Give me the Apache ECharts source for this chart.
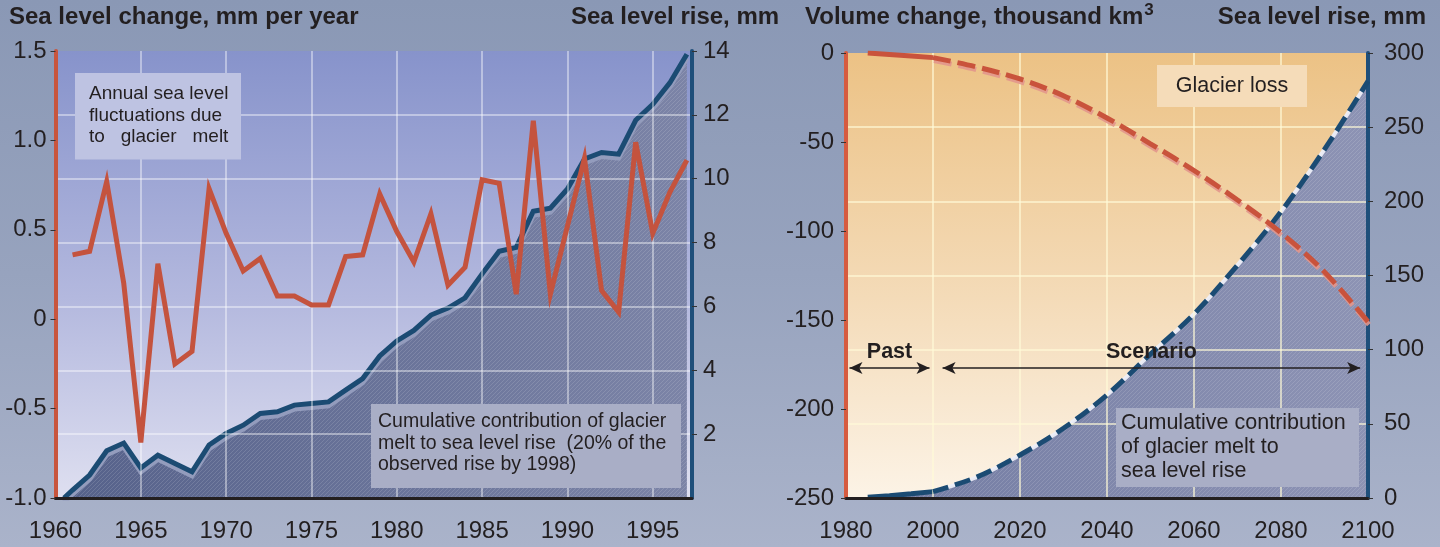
<!DOCTYPE html>
<html>
<head>
<meta charset="utf-8">
<script src="https://cdn.jsdelivr.net/npm/echarts@6/dist/echarts.min.js"></script>
<style>
  html, body { margin: 0; padding: 0; }
  body { width: 1440px; height: 547px; background: linear-gradient(to bottom, #8a98b5 0%, #97a3be 50%, #aab3ca 100%); }
  #chart { width: 1440px; height: 547px; }
</style>
</head>
<body>
<div id="chart"></div>
<script>
// ---------------- DATA ----------------
// Left panel: annual sea level change (mm/yr) due to glacier melt
const annualYears = [1961,1962,1963,1964,1965,1966,1967,1968,1969,1970,1971,1972,1973,1974,1975,1976,1977,1978,1979,1980,1981,1982,1983,1984,1985,1986,1987,1988,1989,1990,1991,1992,1993,1994,1995,1996,1997];
const annualChange = [0.36,0.38,0.77,0.20,-0.69,0.31,-0.25,-0.18,0.73,0.48,0.27,0.34,0.13,0.13,0.08,0.08,0.35,0.36,0.70,0.49,0.32,0.59,0.19,0.29,0.78,0.76,0.14,1.11,0.14,0.52,0.90,0.16,0.04,0.99,0.48,0.71,0.89];
// Left panel: cumulative contribution (mm)
const cumYears = [1960.5,1961,1962,1963,1964,1965,1966,1967,1968,1969,1970,1971,1972,1973,1974,1975,1976,1977,1978,1979,1980,1981,1982,1983,1984,1985,1986,1987,1988,1989,1990,1991,1992,1993,1994,1995,1996,1997];
const cumRise = [0,0.25,0.72,1.48,1.72,0.94,1.34,1.08,0.82,1.66,2.02,2.28,2.65,2.70,2.91,2.96,3.01,3.38,3.74,4.45,4.92,5.25,5.73,5.95,6.27,7.02,7.73,7.85,8.98,9.08,9.68,10.62,10.82,10.77,11.83,12.33,13.0,13.9];

// Right panel: past & scenario
const pastYears = [1985,1990,1995,2000];
const pastVolume = [0,-0.8,-1.7,-2.6];          // thousand km3
const pastRise = [0.5,1.5,2.8,4.3];             // mm
const scenarioYears = [2000,2010,2020,2030,2040,2050,2060,2070,2080,2090,2100];
const scenarioVolume = [-2.6,-7.8,-14.6,-24,-36.5,-51,-66,-82.6,-101,-123,-151];
const scenarioRise = [4.3,14,29,47,69.5,97,124,157,193,235,281];

// Periods marked with arrows (right panel)
const periodNames = ['Past','Scenario'];
const periodStart = [1980,2000];
const periodEnd = [2000,2100];
const periodArrowLevel = -177;

// Axis ranges / ticks
const leftX = {min:1960, max:1997.3, interval:5};
const leftYChange = {min:-1, max:1.5, interval:0.5};
const leftYRise = {min:0, max:14, interval:2};
const rightX = {min:1980, max:2100, interval:20};
const rightYVolume = {min:-250, max:0, interval:50};
const rightYRise = {min:0, max:300, interval:50};

// Texts
const titles = ['Sea level change, mm per year','Sea level rise, mm','Volume change, thousand km','Sea level rise, mm'];
const noteAnnual = 'Annual sea level\nfluctuations due\nto   glacier   melt';
const noteCumLeft = 'Cumulative contribution of glacier\nmelt to sea level rise  (20% of the\nobserved rise by 1998)';
const noteLoss = 'Glacier loss';
const noteCumRight = 'Cumulative contribution\nof glacier melt to\nsea level rise';

// ---------------- STYLE HELPERS ----------------
const FONT = '"Liberation Sans", Arial, Helvetica, sans-serif';
const TXT = '#231f20';
const RED = '#c4533e';
const BLUE = '#1b4b73';

function pair(xs, ys) { return xs.map((x, i) => [x, ys[i]]); }

function makeHatch(x0, x1, c0, c1) {
  const cv = document.createElement('canvas');
  cv.width = 1440; cv.height = 8;
  const ctx = cv.getContext('2d');
  const g = ctx.createLinearGradient(x0, 0, x1, 0);
  g.addColorStop(0, c0); g.addColorStop(1, c1);
  ctx.fillStyle = g; ctx.fillRect(0, 0, 1440, 8);
  ctx.strokeStyle = 'rgba(255,255,255,0.13)';
  ctx.lineWidth = 1;
  for (let x = -8; x < 1448; x += 4) {
    ctx.beginPath(); ctx.moveTo(x, 8); ctx.lineTo(x + 8, 0); ctx.stroke();
  }
  return { image: cv, repeat: 'repeat' };
}
const hatchLeft = makeHatch(56, 692, '#55618a', '#7c84a7');
const hatchRight = makeHatch(846, 1368, '#727ba2', '#8d93b4');

function measure(text, font) {
  const c = document.createElement('canvas').getContext('2d');
  c.font = font; return c.measureText(text).width;
}

const gradLeft = { type:'linear', x:0, y:0, x2:0, y2:1, colorStops:[
  {offset:0, color:'#8793cb'}, {offset:0.55, color:'#b3b8de'}, {offset:1, color:'#dedff0'}]};
const gradRight = { type:'linear', x:0, y:0, x2:0, y2:1, colorStops:[
  {offset:0, color:'#ecc285'}, {offset:0.55, color:'#f4dbb8'}, {offset:1, color:'#fcf3e6'}]};

const tickLabel = { fontSize:24, color:TXT, fontFamily:FONT };

function xAxisCfg(grid, r, splitColor) {
  return {
    type:'value', gridIndex:grid, min:r.min, max:r.max, interval:r.interval, z:3,
    axisLine:{ onZero:false, lineStyle:{ color:'#231f20', width:3 } },
    axisTick:{ show:false },
    axisLabel:Object.assign({ margin:21, showMaxLabel: r.max % r.interval === 0,
      formatter: v => (v % r.interval === 0 ? String(v) : '') }, tickLabel),
    splitLine:{ show:true, showMinLine:false, showMaxLine:false, lineStyle:{ color:splitColor, width:1.5 } }
  };
}
function yAxisCfg(grid, r, pos, lineColor, split, splitColor, extra) {
  return Object.assign({
    type:'value', gridIndex:grid, position:pos, min:r.min, max:r.max, interval:r.interval, z:3,
    axisLine:{ show:true, onZero:false, lineStyle:{ color:lineColor, width:4 } },
    axisTick:{ show:true, length:5, lineStyle:{ color:'#333', width:1 } },
    axisLabel:Object.assign({ margin:9 }, tickLabel),
    splitLine:{ show:split, showMinLine:false, showMaxLine:false, lineStyle:{ color:splitColor, width:1.5 } }
  }, extra || {});
}

// ---------------- CHART ----------------
const chart = echarts.init(document.getElementById('chart'), null, { renderer:'canvas' });

const titleFont = 'bold 24px ' + FONT;
const kmWidth = measure(titles[2], titleFont);

const option = {
  animation:false,
  backgroundColor:'transparent',
  grid:[
    { left:55.5, top:51, width:636.5, height:447, show:true, backgroundColor:gradLeft, borderWidth:0 },
    { left:846, top:53, width:522, height:445, show:true, backgroundColor:gradRight, borderWidth:0 }
  ],
  xAxis:[
    xAxisCfg(0, leftX, 'rgba(255,255,255,0.55)'),
    xAxisCfg(1, rightX, 'rgba(255,249,215,0.85)')
  ],
  yAxis:[
    yAxisCfg(0, leftYChange, 'left', '#c8553d', false, '', {
      axisLabel:Object.assign({ margin:9, formatter: v => (v === 0 ? '0' : v.toFixed(1)) }, tickLabel) }),
    yAxisCfg(0, leftYRise, 'right', '#1f4f7a', true, 'rgba(255,255,255,0.55)', {
      axisLabel:Object.assign({ margin:11, showMinLabel:false }, tickLabel) }),
    yAxisCfg(1, rightYVolume, 'left', '#d65b3f', false, '', {
      axisLabel:Object.assign({ margin:12 }, tickLabel) }),
    yAxisCfg(1, rightYRise, 'right', '#1f4f7a', true, 'rgba(255,249,215,0.85)', {
      axisLabel:Object.assign({ margin:16 }, tickLabel) })
  ],
  series:[
    { name:'Cumulative contribution', type:'line', xAxisIndex:0, yAxisIndex:1, z:2,
      data:pair(cumYears, cumRise), symbol:'none',
      lineStyle:{ color:BLUE, width:5, join:'miter', shadowColor:'#939cbd', shadowOffsetY:4, shadowBlur:0 },
      areaStyle:{ color:hatchLeft, opacity:1 } },
    { name:'Annual change', type:'line', xAxisIndex:0, yAxisIndex:0, z:5,
      data:pair(annualYears, annualChange), symbol:'none',
      lineStyle:{ color:RED, width:5, join:'miter', miterLimit:6 } },

    { name:'Past rise', type:'line', xAxisIndex:1, yAxisIndex:3, z:2,
      data:pair(pastYears, pastRise), symbol:'none',
      lineStyle:{ color:BLUE, width:5 },
      areaStyle:{ color:hatchRight, opacity:1 } },
    { name:'Scenario rise base', type:'line', xAxisIndex:1, yAxisIndex:3, z:2, smooth:0.35,
      data:pair(scenarioYears, scenarioRise), symbol:'none',
      lineStyle:{ color:'rgba(236,238,248,0.95)', width:4 },
      areaStyle:{ color:hatchRight, opacity:1 } },
    { name:'Scenario rise', type:'line', xAxisIndex:1, yAxisIndex:3, z:4, smooth:0.35,
      data:pair(scenarioYears, scenarioRise), symbol:'none',
      lineStyle:{ color:BLUE, width:5, type:[16,7] } },

    { name:'Past volume', type:'line', xAxisIndex:1, yAxisIndex:2, z:5,
      data:pair(pastYears, pastVolume), symbol:'none',
      lineStyle:{ color:'#c9533c', width:5 },
      markLine:{
        silent:true, animation:false,
        symbol:['arrow','arrow'], symbolSize:[9,13],
        lineStyle:{ color:'#231f20', width:1.5, type:'solid' },
        label:{ show:true, position:'insideMiddleTop', distance:5, formatter:'{b}',
          fontFamily:FONT, fontWeight:'bold', fontSize:21.5, color:TXT },
        emphasis:{ disabled:true },
        data: periodNames.map((n, i) => [
          { name:n, coord:[periodStart[i] + (i === 0 ? 0.8 : 2.2), periodArrowLevel] },
          { coord:[periodEnd[i] - (i === 0 ? 0.8 : 1.8), periodArrowLevel] }
        ])
      } },
    { name:'Scenario volume', type:'line', xAxisIndex:1, yAxisIndex:2, z:5, smooth:0.35,
      data:pair(scenarioYears, scenarioVolume), symbol:'none',
      lineStyle:{ color:'#c9533c', width:5, type:[18,7],
        shadowColor:'rgba(226,150,140,0.9)', shadowOffsetX:1, shadowOffsetY:3, shadowBlur:0 } }
  ],
  graphic:[
    // titles
    { type:'text', z:20, x:9, y:17, style:{ text:titles[0], font:titleFont, fill:TXT, verticalAlign:'middle' } },
    { type:'text', z:20, x:571, y:17, style:{ text:titles[1], font:titleFont, fill:TXT, verticalAlign:'middle' } },
    { type:'text', z:20, x:805, y:17, style:{ text:titles[2], font:titleFont, fill:TXT, verticalAlign:'middle' } },
    { type:'text', z:20, x:805 + kmWidth + 1, y:10, style:{ text:'3', font:'bold 17px ' + FONT, fill:TXT, verticalAlign:'middle' } },
    { type:'text', z:20, x:1426, y:17, style:{ text:titles[3], font:titleFont, fill:TXT, align:'right', verticalAlign:'middle' } },

    // annotation boxes
    { type:'rect', z:10, shape:{ x:75, y:73, width:166, height:86.5 }, style:{ fill:'#bec3e2' } },
    { type:'text', z:11, x:89, y:83.3, style:{ text:noteAnnual, font:'19px ' + FONT, lineHeight:21.5, fill:TXT, verticalAlign:'top' } },

    { type:'rect', z:10, shape:{ x:371, y:404, width:310, height:84 }, style:{ fill:'#a9aec6' } },
    { type:'text', z:11, x:378, y:410.8, style:{ text:noteCumLeft, font:'19.5px ' + FONT, lineHeight:21.7, fill:TXT, verticalAlign:'top' } },

    { type:'rect', z:10, shape:{ x:1157, y:65, width:150, height:42 }, style:{ fill:'#f5dcb9' } },
    { type:'text', z:11, x:1232, y:86, style:{ text:noteLoss, font:'21.5px ' + FONT, fill:TXT, align:'center', verticalAlign:'middle' } },

    { type:'rect', z:10, shape:{ x:1116, y:408, width:243, height:79 }, style:{ fill:'#a9aec6' } },
    { type:'text', z:11, x:1121, y:410.9, style:{ text:noteCumRight, font:'21.5px ' + FONT, lineHeight:24.2, fill:TXT, verticalAlign:'top' } }
  ]
};
chart.setOption(option);
</script>
</body>
</html>
